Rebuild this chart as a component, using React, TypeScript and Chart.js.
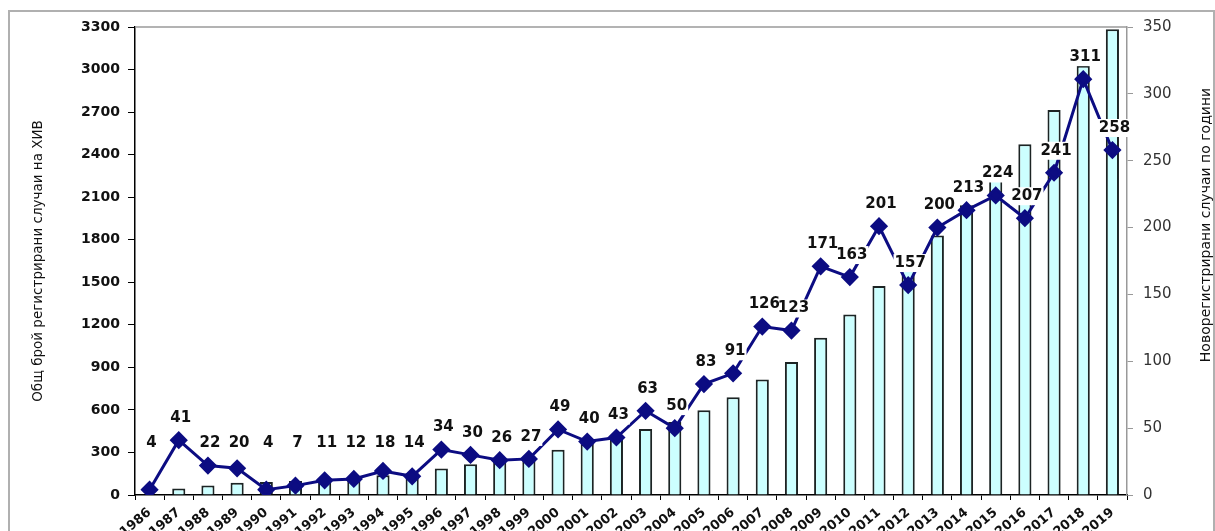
import React, { useEffect, useRef } from "react";
import { Chart, registerables } from "chart.js";

Chart.register(...registerables);

const years = [
  "1986", "1987", "1988", "1989", "1990", "1991", "1992", "1993", "1994", "1995",
  "1996", "1997", "1998", "1999", "2000", "2001", "2002", "2003", "2004", "2005",
  "2006", "2007", "2008", "2009", "2010", "2011", "2012", "2013", "2014", "2015",
  "2016", "2017", "2018", "2019",
];

const newCases = [
  4, 41, 22, 20, 4, 7, 11, 12, 18, 14,
  34, 30, 26, 27, 49, 40, 43, 63, 50, 83,
  91, 126, 123, 171, 163, 201, 157, 200, 213, 224,
  207, 241, 311, 258,
];

const totalCases = [
  4, 45, 67, 87, 91, 98, 109, 121, 139, 153,
  187, 217, 243, 270, 319, 359, 402, 465, 515, 598,
  689, 815, 938, 1109, 1272, 1473, 1630, 1830, 2043, 2267,
  2474, 2715, 3026, 3284,
];

const leftTitle = "Общ брой регистрирани случаи на ХИВ";
const rightTitle = "Новорегистрирани случаи по години";

const FONT = "'DejaVu Sans', sans-serif";

const decorPlugin = {
  id: "decor",
  afterDatasetsDraw(chart: any) {
    const ctx = chart.ctx;
    const area = chart.chartArea;
    ctx.save();
    ctx.strokeStyle = "#9a9a9a";
    ctx.lineWidth = 1.5;
    ctx.beginPath();
    ctx.moveTo(area.left, area.top);
    ctx.lineTo(area.right, area.top);
    ctx.stroke();

    const meta = chart.getDatasetMeta(1);
    ctx.font = `bold 15px ${FONT}`;
    ctx.textAlign = "center";
    ctx.textBaseline = "middle";
    const spots = meta.data.map((pt: any, i: number) => {
      const txt = String(newCases[i]);
      return { txt, x: pt.x + 2, y: Math.min(pt.y - 22, 443), w: ctx.measureText(txt).width + 2 };
    });
    ctx.fillStyle = "#ffffff";
    spots.forEach((s: any) => ctx.fillRect(s.x - s.w / 2, s.y - 9, s.w, 18));
    ctx.fillStyle = "#111111";
    spots.forEach((s: any) => ctx.fillText(s.txt, s.x, s.y));

    ctx.translate(1206, 225);
    ctx.rotate(-Math.PI / 2);
    ctx.font = `14px ${FONT}`;
    ctx.fillStyle = "#111111";
    ctx.textAlign = "center";
    ctx.textBaseline = "middle";
    ctx.fillText(rightTitle, 0, 0);
    ctx.restore();
  },
};

export default function App() {
  const ref = useRef<HTMLCanvasElement>(null);

  useEffect(() => {
    const canvas = ref.current!;
    const chart = new Chart(canvas, {
      type: "bar",
      data: {
        labels: years,
        datasets: [
          {
            type: "bar",
            label: "total",
            data: totalCases,
            yAxisID: "y",
            backgroundColor: "#ccffff",
            borderColor: "#1c2424",
            borderWidth: 2,
            categoryPercentage: 1,
            barPercentage: 0.45,
            order: 2,
          },
          {
            type: "line",
            label: "new",
            data: newCases,
            yAxisID: "y1",
            borderColor: "#0c0c82",
            backgroundColor: "#0c0c82",
            borderWidth: 3,
            pointStyle: "rectRot",
            pointRadius: 7,
            pointBackgroundColor: "#0c0c82",
            pointBorderColor: "#0c0c82",
            tension: 0,
            order: 1,
          } as any,
        ],
      },
      options: {
        responsive: false,
        animation: false,
        devicePixelRatio: 1,
        layout: { padding: { top: 27, left: 0, right: 0, bottom: 0 } },
        plugins: {
          legend: { display: false },
          tooltip: { enabled: false },
        },
        scales: {
          x: {
            offset: true,
            grid: {
              offset: true,
              drawOnChartArea: false,
              drawTicks: true,
              tickLength: 5,
              color: "#000",
            },
            border: { display: true, color: "#000", width: 1.5 },
            ticks: {
              autoSkip: false,
              maxRotation: 40,
              minRotation: 40,
              padding: 5,
              color: "#111",
              font: { family: FONT, size: 13, weight: "bold" },
            },
            afterFit: (s: any) => {
              s.height = 65;
            },
          },
          y: {
            position: "left",
            min: 0,
            max: 3300,
            ticks: {
              stepSize: 300,
              padding: 8,
              color: "#111",
              font: { family: FONT, size: 14, weight: "bold" },
              callback: (v: any) => String(v),
            },
            grid: {
              drawOnChartArea: false,
              drawTicks: true,
              tickLength: 7,
              color: "#000",
            },
            border: { display: true, color: "#000", width: 1.5 },
            title: {
              display: true,
              text: leftTitle,
              color: "#111",
              padding: { top: 30, bottom: 0 },
              font: { family: FONT, size: 13.5 },
            },
            afterFit: (s: any) => {
              s.width = 135;
            },
          },
          y1: {
            position: "right",
            min: 0,
            max: 350,
            ticks: {
              stepSize: 50,
              padding: 10,
              color: "#333",
              font: { family: FONT, size: 15 },
            },
            grid: {
              drawOnChartArea: false,
              drawTicks: true,
              tickLength: 6,
              color: "#999",
            },
            border: { display: true, color: "#999", width: 1.5 },
            afterFit: (s: any) => {
              s.width = 88;
            },
          },
        },
      },
      plugins: [decorPlugin],
    });
    return () => chart.destroy();
  }, []);

  return (
    <div
      style={{
        position: "fixed",
        left: 0,
        top: 0,
        width: 1215,
        height: 531,
        overflow: "hidden",
        background: "#fff",
      }}
    >
      <canvas
        ref={ref}
        width={1215}
        height={560}
        style={{ display: "block", width: 1215, height: 560 }}
      />
      <div
        style={{
          position: "absolute",
          left: 8,
          top: 10,
          width: 1203,
          height: 600,
          border: "2px solid #b0b0b0",
          pointerEvents: "none",
        }}
      />
    </div>
  );
}
